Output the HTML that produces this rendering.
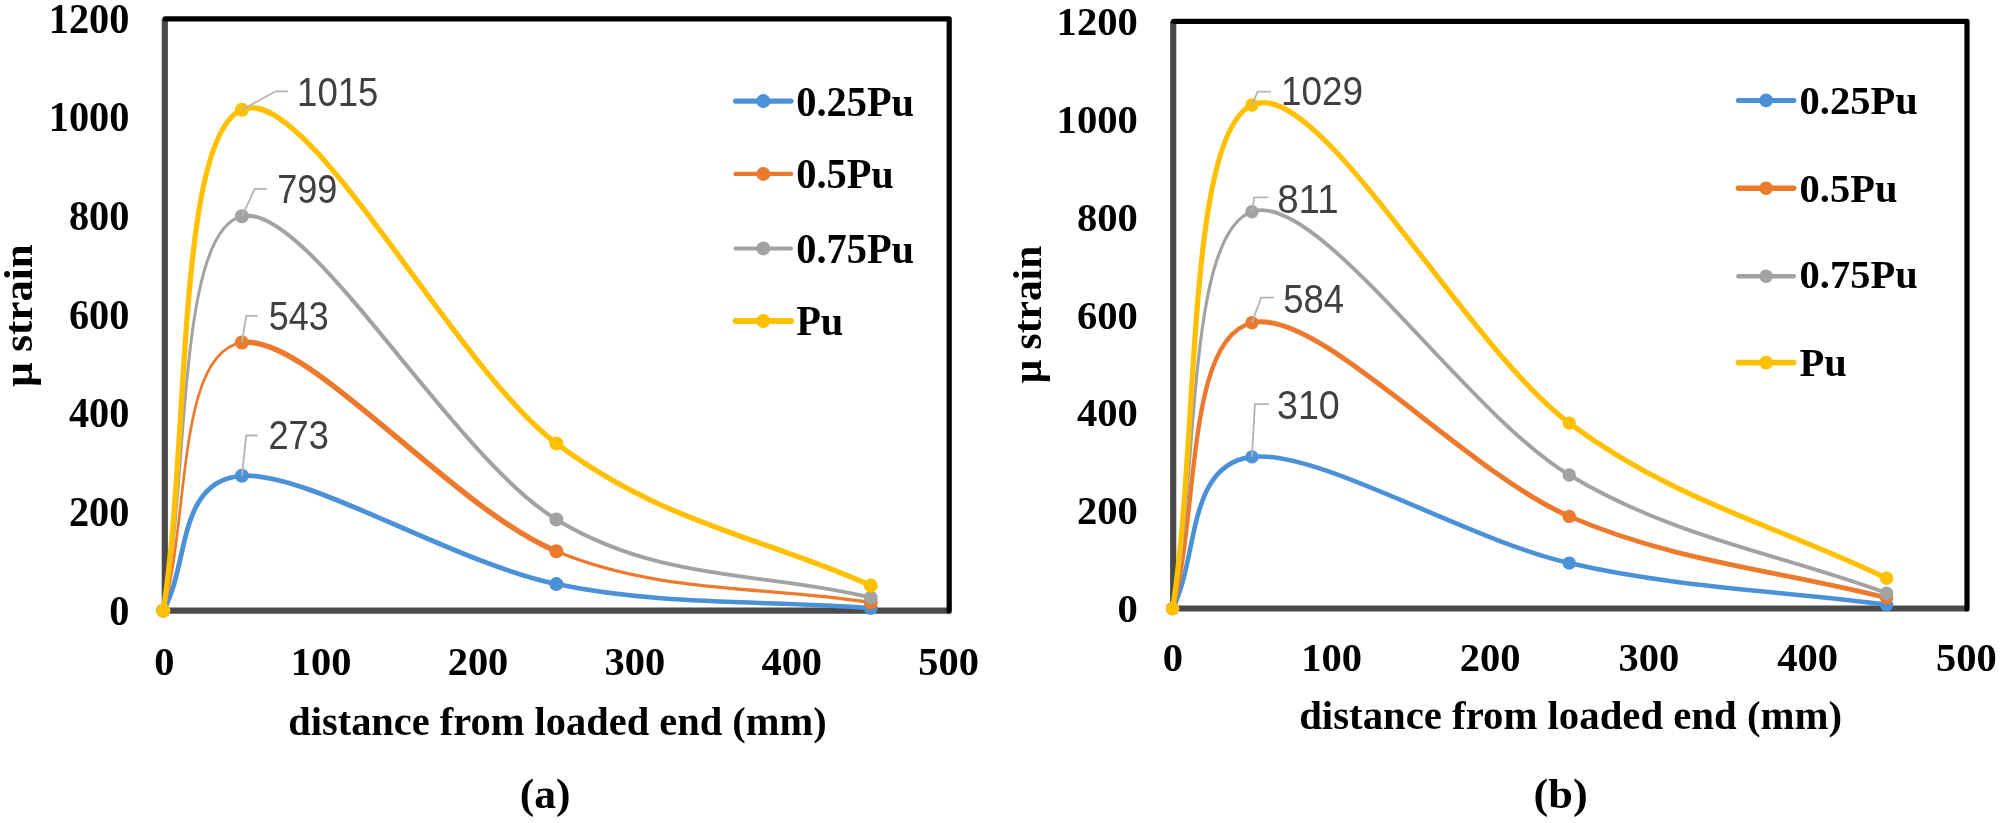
<!DOCTYPE html>
<html lang="en">
<head>
<meta charset="utf-8">
<title>Strain distribution along bonded length</title>
<style>
html,body{margin:0;padding:0;background:#fff;}
body{width:2000px;height:823px;overflow:hidden;}
svg{display:block;filter:blur(0.6px);}

</style>
</head>
<body>
<svg width="2000" height="823" viewBox="0 0 2000 823">
<rect width="2000" height="823" fill="#fff"/>
<g id="chart-a">
<path d="M164.8 18.8 V610.7 H949.2" fill="none" stroke="#4a4a4a" stroke-width="6.2" stroke-linejoin="miter"/>
<path d="M165.2 18.8 H949.2 V611.1" fill="none" stroke="#000" stroke-width="5.2" stroke-linejoin="round" stroke-linecap="round"/>
<text x="109.25" y="624.6" textLength="20.15" lengthAdjust="spacingAndGlyphs" font-family="'Liberation Serif', serif" font-weight="bold" font-size="43.2">0</text>
<text x="68.95" y="525.95" textLength="60.45" lengthAdjust="spacingAndGlyphs" font-family="'Liberation Serif', serif" font-weight="bold" font-size="43.2">200</text>
<text x="68.95" y="427.3" textLength="60.45" lengthAdjust="spacingAndGlyphs" font-family="'Liberation Serif', serif" font-weight="bold" font-size="43.2">400</text>
<text x="68.95" y="328.65" textLength="60.45" lengthAdjust="spacingAndGlyphs" font-family="'Liberation Serif', serif" font-weight="bold" font-size="43.2">600</text>
<text x="68.95" y="230" textLength="60.45" lengthAdjust="spacingAndGlyphs" font-family="'Liberation Serif', serif" font-weight="bold" font-size="43.2">800</text>
<text x="48.8" y="131.35" textLength="80.6" lengthAdjust="spacingAndGlyphs" font-family="'Liberation Serif', serif" font-weight="bold" font-size="43.2">1000</text>
<text x="48.8" y="32.7" textLength="80.6" lengthAdjust="spacingAndGlyphs" font-family="'Liberation Serif', serif" font-weight="bold" font-size="43.2">1200</text>
<text x="164.3" y="675.2" text-anchor="middle" font-family="'Liberation Serif', serif" font-weight="bold" font-size="40.4">0</text>
<text x="321.16" y="675.2" text-anchor="middle" font-family="'Liberation Serif', serif" font-weight="bold" font-size="40.4">100</text>
<text x="478.02" y="675.2" text-anchor="middle" font-family="'Liberation Serif', serif" font-weight="bold" font-size="40.4">200</text>
<text x="634.88" y="675.2" text-anchor="middle" font-family="'Liberation Serif', serif" font-weight="bold" font-size="40.4">300</text>
<text x="791.74" y="675.2" text-anchor="middle" font-family="'Liberation Serif', serif" font-weight="bold" font-size="40.4">400</text>
<text x="948.6" y="675.2" text-anchor="middle" font-family="'Liberation Serif', serif" font-weight="bold" font-size="40.4">500</text>
<text x="288.2" y="734.5" textLength="538.5" lengthAdjust="spacingAndGlyphs" font-family="'Liberation Serif', serif" font-weight="bold" font-size="40">distance from loaded end (mm)</text>
<text transform="translate(32 386.8) rotate(-90)" textLength="142.5" lengthAdjust="spacingAndGlyphs" font-family="'Liberation Serif', serif" font-weight="bold" font-size="40">μ strain</text>
<text x="519.8" y="808.4" textLength="50.8" lengthAdjust="spacingAndGlyphs" font-family="'Liberation Serif', serif" font-weight="bold" font-size="42">(a)</text>
<path d="M163.3 610.5 C189.5 565.6 176.4 480.2 241.91 475.8" fill="none" stroke="#4b91d8" stroke-width="4.8" stroke-linecap="round"/>
<path d="M241.91 475.8 C307.42 471.4 451.54 562.06 556.35 584.1" fill="none" stroke="#4b91d8" stroke-width="4.8" stroke-linecap="round"/>
<path d="M556.35 584.1 C661.16 606.14 765.98 600.06 870.79 608.03" fill="none" stroke="#4b91d8" stroke-width="4.6" stroke-linecap="round"/>
<circle cx="163.3" cy="610.5" r="7.0" fill="#4b91d8"/>
<circle cx="241.91" cy="475.8" r="7.0" fill="#4b91d8"/>
<circle cx="556.35" cy="584.1" r="7.0" fill="#4b91d8"/>
<circle cx="870.79" cy="608.03" r="7.0" fill="#4b91d8"/>
<path d="M163.3 610.5 C189.5 521.19 176.4 352.44 241.91 342.57" fill="none" stroke="#ed7a2c" stroke-width="2.7" stroke-linecap="round"/>
<path d="M241.91 342.57 C307.42 332.71 451.54 507.95 556.35 551.29" fill="none" stroke="#ed7a2c" stroke-width="5.5" stroke-linecap="round"/>
<path d="M556.35 551.29 C661.16 594.63 765.98 585.5 870.79 602.61" fill="none" stroke="#ed7a2c" stroke-width="3.2" stroke-linecap="round"/>
<circle cx="163.3" cy="610.5" r="7.0" fill="#ed7a2c"/>
<circle cx="241.91" cy="342.57" r="7.0" fill="#ed7a2c"/>
<circle cx="556.35" cy="551.29" r="7.0" fill="#ed7a2c"/>
<circle cx="870.79" cy="602.61" r="7.0" fill="#ed7a2c"/>
<path d="M163.3 610.5 C189.5 479.09 176.4 231.43 241.91 216.26" fill="none" stroke="#a2a2a2" stroke-width="3.0" stroke-linecap="round"/>
<path d="M241.91 216.26 C307.42 201.09 451.54 455.9 556.35 519.46" fill="none" stroke="#a2a2a2" stroke-width="4.1" stroke-linecap="round"/>
<path d="M556.35 519.46 C661.16 583.03 765.98 571.6 870.79 597.67" fill="none" stroke="#a2a2a2" stroke-width="3.9" stroke-linecap="round"/>
<circle cx="163.3" cy="610.5" r="7.0" fill="#a2a2a2"/>
<circle cx="241.91" cy="216.26" r="7.0" fill="#a2a2a2"/>
<circle cx="556.35" cy="519.46" r="7.0" fill="#a2a2a2"/>
<circle cx="870.79" cy="597.67" r="7.0" fill="#a2a2a2"/>
<path d="M163.3 610.5 C189.5 443.56 176.4 137.52 241.91 109.68" fill="none" stroke="#ffc000" stroke-width="5.3" stroke-linecap="round"/>
<path d="M241.91 109.68 C307.42 81.85 451.54 364.16 556.35 443.48" fill="none" stroke="#ffc000" stroke-width="5.3" stroke-linecap="round"/>
<path d="M556.35 443.48 C661.16 522.8 765.98 538.21 870.79 585.58" fill="none" stroke="#ffc000" stroke-width="5.3" stroke-linecap="round"/>
<circle cx="163.3" cy="610.5" r="7.0" fill="#ffc000"/>
<circle cx="241.91" cy="109.68" r="7.0" fill="#ffc000"/>
<circle cx="556.35" cy="443.48" r="7.0" fill="#ffc000"/>
<circle cx="870.79" cy="585.58" r="7.0" fill="#ffc000"/>
<path d="M241.91 475.8 L246.2 435.5 H257.6" fill="none" stroke="#b3b3b3" stroke-width="1.8"/>
<text x="268.38" y="449.2" textLength="60.41" lengthAdjust="spacingAndGlyphs" font-family="'Liberation Sans', sans-serif" font-size="40" fill="#404040">273</text>
<path d="M241.91 342.57 L246.2 315.8 H257.6" fill="none" stroke="#b3b3b3" stroke-width="1.8"/>
<text x="268.76" y="329.7" textLength="60.02" lengthAdjust="spacingAndGlyphs" font-family="'Liberation Sans', sans-serif" font-size="40" fill="#404040">543</text>
<path d="M241.91 216.26 L254.8 188.8 H266.6" fill="none" stroke="#b3b3b3" stroke-width="1.8"/>
<text x="277.15" y="202.6" textLength="60.16" lengthAdjust="spacingAndGlyphs" font-family="'Liberation Sans', sans-serif" font-size="40" fill="#404040">799</text>
<path d="M241.91 109.68 L275.7 91.3 H287.8" fill="none" stroke="#b3b3b3" stroke-width="1.8"/>
<text x="297.12" y="105.5" textLength="81.32" lengthAdjust="spacingAndGlyphs" font-family="'Liberation Sans', sans-serif" font-size="40" fill="#404040">1015</text>
<line x1="735.6" y1="101.1" x2="791" y2="101.1" stroke="#4b91d8" stroke-width="5.2" stroke-linecap="round"/>
<circle cx="763.3" cy="101.1" r="7" fill="#4b91d8"/>
<text x="796.2" y="115.8" textLength="117.85" lengthAdjust="spacingAndGlyphs" font-family="'Liberation Serif', serif" font-weight="bold" font-size="43.2">0.25Pu</text>
<line x1="735.6" y1="173.9" x2="791" y2="173.9" stroke="#ed7a2c" stroke-width="4.4" stroke-linecap="round"/>
<circle cx="763.3" cy="173.9" r="7" fill="#ed7a2c"/>
<text x="796.2" y="188.4" textLength="97.65" lengthAdjust="spacingAndGlyphs" font-family="'Liberation Serif', serif" font-weight="bold" font-size="43.2">0.5Pu</text>
<line x1="735.6" y1="248.4" x2="791" y2="248.4" stroke="#a2a2a2" stroke-width="4" stroke-linecap="round"/>
<circle cx="763.3" cy="248.4" r="7" fill="#a2a2a2"/>
<text x="796.2" y="262.6" textLength="117.85" lengthAdjust="spacingAndGlyphs" font-family="'Liberation Serif', serif" font-weight="bold" font-size="43.2">0.75Pu</text>
<line x1="735.6" y1="321" x2="791" y2="321" stroke="#ffc000" stroke-width="6.0" stroke-linecap="round"/>
<circle cx="763.3" cy="321" r="7" fill="#ffc000"/>
<text x="796.2" y="335.2" textLength="47.15" lengthAdjust="spacingAndGlyphs" font-family="'Liberation Serif', serif" font-weight="bold" font-size="43.2">Pu</text>
</g>
<g id="chart-b">
<path d="M1173.2 21.3 V608.5 H1967" fill="none" stroke="#4a4a4a" stroke-width="6.2" stroke-linejoin="miter"/>
<path d="M1173.6 21.3 H1967 V608.9" fill="none" stroke="#000" stroke-width="5.2" stroke-linejoin="round" stroke-linecap="round"/>
<text x="1117.5" y="622.2" textLength="20.3" lengthAdjust="spacingAndGlyphs" font-family="'Liberation Serif', serif" font-weight="bold" font-size="40.8">0</text>
<text x="1076.9" y="524.33" textLength="60.9" lengthAdjust="spacingAndGlyphs" font-family="'Liberation Serif', serif" font-weight="bold" font-size="40.8">200</text>
<text x="1076.9" y="426.47" textLength="60.9" lengthAdjust="spacingAndGlyphs" font-family="'Liberation Serif', serif" font-weight="bold" font-size="40.8">400</text>
<text x="1076.9" y="328.6" textLength="60.9" lengthAdjust="spacingAndGlyphs" font-family="'Liberation Serif', serif" font-weight="bold" font-size="40.8">600</text>
<text x="1076.9" y="230.73" textLength="60.9" lengthAdjust="spacingAndGlyphs" font-family="'Liberation Serif', serif" font-weight="bold" font-size="40.8">800</text>
<text x="1056.6" y="132.87" textLength="81.2" lengthAdjust="spacingAndGlyphs" font-family="'Liberation Serif', serif" font-weight="bold" font-size="40.8">1000</text>
<text x="1056.6" y="35" textLength="81.2" lengthAdjust="spacingAndGlyphs" font-family="'Liberation Serif', serif" font-weight="bold" font-size="40.8">1200</text>
<text x="1172.8" y="671" text-anchor="middle" font-family="'Liberation Serif', serif" font-weight="bold" font-size="40.5">0</text>
<text x="1331.5" y="671" text-anchor="middle" font-family="'Liberation Serif', serif" font-weight="bold" font-size="40.5">100</text>
<text x="1490.2" y="671" text-anchor="middle" font-family="'Liberation Serif', serif" font-weight="bold" font-size="40.5">200</text>
<text x="1648.9" y="671" text-anchor="middle" font-family="'Liberation Serif', serif" font-weight="bold" font-size="40.5">300</text>
<text x="1807.6" y="671" text-anchor="middle" font-family="'Liberation Serif', serif" font-weight="bold" font-size="40.5">400</text>
<text x="1966.3" y="671" text-anchor="middle" font-family="'Liberation Serif', serif" font-weight="bold" font-size="40.5">500</text>
<text x="1299.2" y="728.6" textLength="542.8" lengthAdjust="spacingAndGlyphs" font-family="'Liberation Serif', serif" font-weight="bold" font-size="40">distance from loaded end (mm)</text>
<text transform="translate(1040.8 383.3) rotate(-90)" textLength="137.5" lengthAdjust="spacingAndGlyphs" font-family="'Liberation Serif', serif" font-weight="bold" font-size="40">μ strain</text>
<text x="1533.6" y="808.1" textLength="54.2" lengthAdjust="spacingAndGlyphs" font-family="'Liberation Serif', serif" font-weight="bold" font-size="42">(b)</text>
<path d="M1172.6 608.6 C1199.04 558.03 1185.82 464.47 1251.93 456.88" fill="none" stroke="#4b91d8" stroke-width="4.6" stroke-linecap="round"/>
<path d="M1251.93 456.88 C1318.04 449.29 1463.48 538.45 1569.25 563.08" fill="none" stroke="#4b91d8" stroke-width="4.6" stroke-linecap="round"/>
<path d="M1569.25 563.08 C1675.02 587.72 1780.8 590.82 1886.57 604.68" fill="none" stroke="#4b91d8" stroke-width="4.6" stroke-linecap="round"/>
<circle cx="1172.6" cy="608.6" r="6.7" fill="#4b91d8"/>
<circle cx="1251.93" cy="456.88" r="6.7" fill="#4b91d8"/>
<circle cx="1569.25" cy="563.08" r="6.7" fill="#4b91d8"/>
<circle cx="1886.57" cy="604.68" r="6.7" fill="#4b91d8"/>
<path d="M1172.6 608.6 C1199.04 513.33 1185.82 338.15 1251.93 322.78" fill="none" stroke="#ed7a2c" stroke-width="4.4" stroke-linecap="round"/>
<path d="M1251.93 322.78 C1318.04 307.41 1463.48 470.55 1569.25 516.39" fill="none" stroke="#ed7a2c" stroke-width="5.0" stroke-linecap="round"/>
<path d="M1569.25 516.39 C1675.02 562.24 1780.8 570.69 1886.57 597.83" fill="none" stroke="#ed7a2c" stroke-width="4.8" stroke-linecap="round"/>
<circle cx="1172.6" cy="608.6" r="6.7" fill="#ed7a2c"/>
<circle cx="1251.93" cy="322.78" r="6.7" fill="#ed7a2c"/>
<circle cx="1569.25" cy="516.39" r="6.7" fill="#ed7a2c"/>
<circle cx="1886.57" cy="597.83" r="6.7" fill="#ed7a2c"/>
<path d="M1172.6 608.6 C1199.04 476.29 1185.82 233.95 1251.93 211.68" fill="none" stroke="#a2a2a2" stroke-width="3.2" stroke-linecap="round"/>
<path d="M1251.93 211.68 C1318.04 189.41 1463.48 411.41 1569.25 474.99" fill="none" stroke="#a2a2a2" stroke-width="3.9" stroke-linecap="round"/>
<path d="M1569.25 474.99 C1675.02 538.57 1780.8 553.79 1886.57 593.18" fill="none" stroke="#a2a2a2" stroke-width="3.9" stroke-linecap="round"/>
<circle cx="1172.6" cy="608.6" r="6.7" fill="#a2a2a2"/>
<circle cx="1251.93" cy="211.68" r="6.7" fill="#a2a2a2"/>
<circle cx="1569.25" cy="474.99" r="6.7" fill="#a2a2a2"/>
<circle cx="1886.57" cy="593.18" r="6.7" fill="#a2a2a2"/>
<path d="M1172.6 608.6 C1199.04 440.73 1185.82 135.91 1251.93 104.99" fill="none" stroke="#ffc000" stroke-width="5.2" stroke-linecap="round"/>
<path d="M1251.93 104.99 C1318.04 74.08 1463.48 344.23 1569.25 423.11" fill="none" stroke="#ffc000" stroke-width="5.2" stroke-linecap="round"/>
<path d="M1569.25 423.11 C1675.02 502 1780.8 526.57 1886.57 578.31" fill="none" stroke="#ffc000" stroke-width="5.2" stroke-linecap="round"/>
<circle cx="1172.6" cy="608.6" r="6.7" fill="#ffc000"/>
<circle cx="1251.93" cy="104.99" r="6.7" fill="#ffc000"/>
<circle cx="1569.25" cy="423.11" r="6.7" fill="#ffc000"/>
<circle cx="1886.57" cy="578.31" r="6.7" fill="#ffc000"/>
<path d="M1251.93 456.88 L1254.9 404.1 H1268.9" fill="none" stroke="#b3b3b3" stroke-width="1.8"/>
<text x="1276.97" y="419.2" textLength="62.8" lengthAdjust="spacingAndGlyphs" font-family="'Liberation Sans', sans-serif" font-size="40" fill="#404040">310</text>
<path d="M1251.93 322.78 L1261.1 297.7 H1274" fill="none" stroke="#b3b3b3" stroke-width="1.8"/>
<text x="1283.14" y="313.2" textLength="60.93" lengthAdjust="spacingAndGlyphs" font-family="'Liberation Sans', sans-serif" font-size="40" fill="#404040">584</text>
<path d="M1251.93 211.68 L1254.2 197.3 H1268.5" fill="none" stroke="#b3b3b3" stroke-width="1.8"/>
<text x="1277.2" y="212.7" textLength="61.4" lengthAdjust="spacingAndGlyphs" font-family="'Liberation Sans', sans-serif" font-size="40" fill="#404040">811</text>
<path d="M1251.93 104.99 L1257.7 91.7 H1270.9" fill="none" stroke="#b3b3b3" stroke-width="1.8"/>
<text x="1280.89" y="105" textLength="82.06" lengthAdjust="spacingAndGlyphs" font-family="'Liberation Sans', sans-serif" font-size="40" fill="#404040">1029</text>
<line x1="1738.4" y1="100.4" x2="1793.8" y2="100.4" stroke="#4b91d8" stroke-width="5.0" stroke-linecap="round"/>
<circle cx="1766.1" cy="100.4" r="6.8" fill="#4b91d8"/>
<text x="1799.6" y="113.6" textLength="118.14" lengthAdjust="spacingAndGlyphs" font-family="'Liberation Serif', serif" font-weight="bold" font-size="40.6">0.25Pu</text>
<line x1="1738.4" y1="188.3" x2="1793.8" y2="188.3" stroke="#ed7a2c" stroke-width="5.4" stroke-linecap="round"/>
<circle cx="1766.1" cy="188.3" r="6.8" fill="#ed7a2c"/>
<text x="1799.6" y="202" textLength="97.89" lengthAdjust="spacingAndGlyphs" font-family="'Liberation Serif', serif" font-weight="bold" font-size="40.6">0.5Pu</text>
<line x1="1738.4" y1="276.3" x2="1793.8" y2="276.3" stroke="#a2a2a2" stroke-width="4.4" stroke-linecap="round"/>
<circle cx="1766.1" cy="276.3" r="6.8" fill="#a2a2a2"/>
<text x="1799.6" y="288" textLength="118.14" lengthAdjust="spacingAndGlyphs" font-family="'Liberation Serif', serif" font-weight="bold" font-size="40.6">0.75Pu</text>
<line x1="1738.4" y1="362.6" x2="1793.8" y2="362.6" stroke="#ffc000" stroke-width="5.6" stroke-linecap="round"/>
<circle cx="1766.1" cy="362.6" r="6.8" fill="#ffc000"/>
<text x="1799.6" y="375.8" textLength="47.26" lengthAdjust="spacingAndGlyphs" font-family="'Liberation Serif', serif" font-weight="bold" font-size="40.6">Pu</text>
</g>
</svg>
</body>
</html>
